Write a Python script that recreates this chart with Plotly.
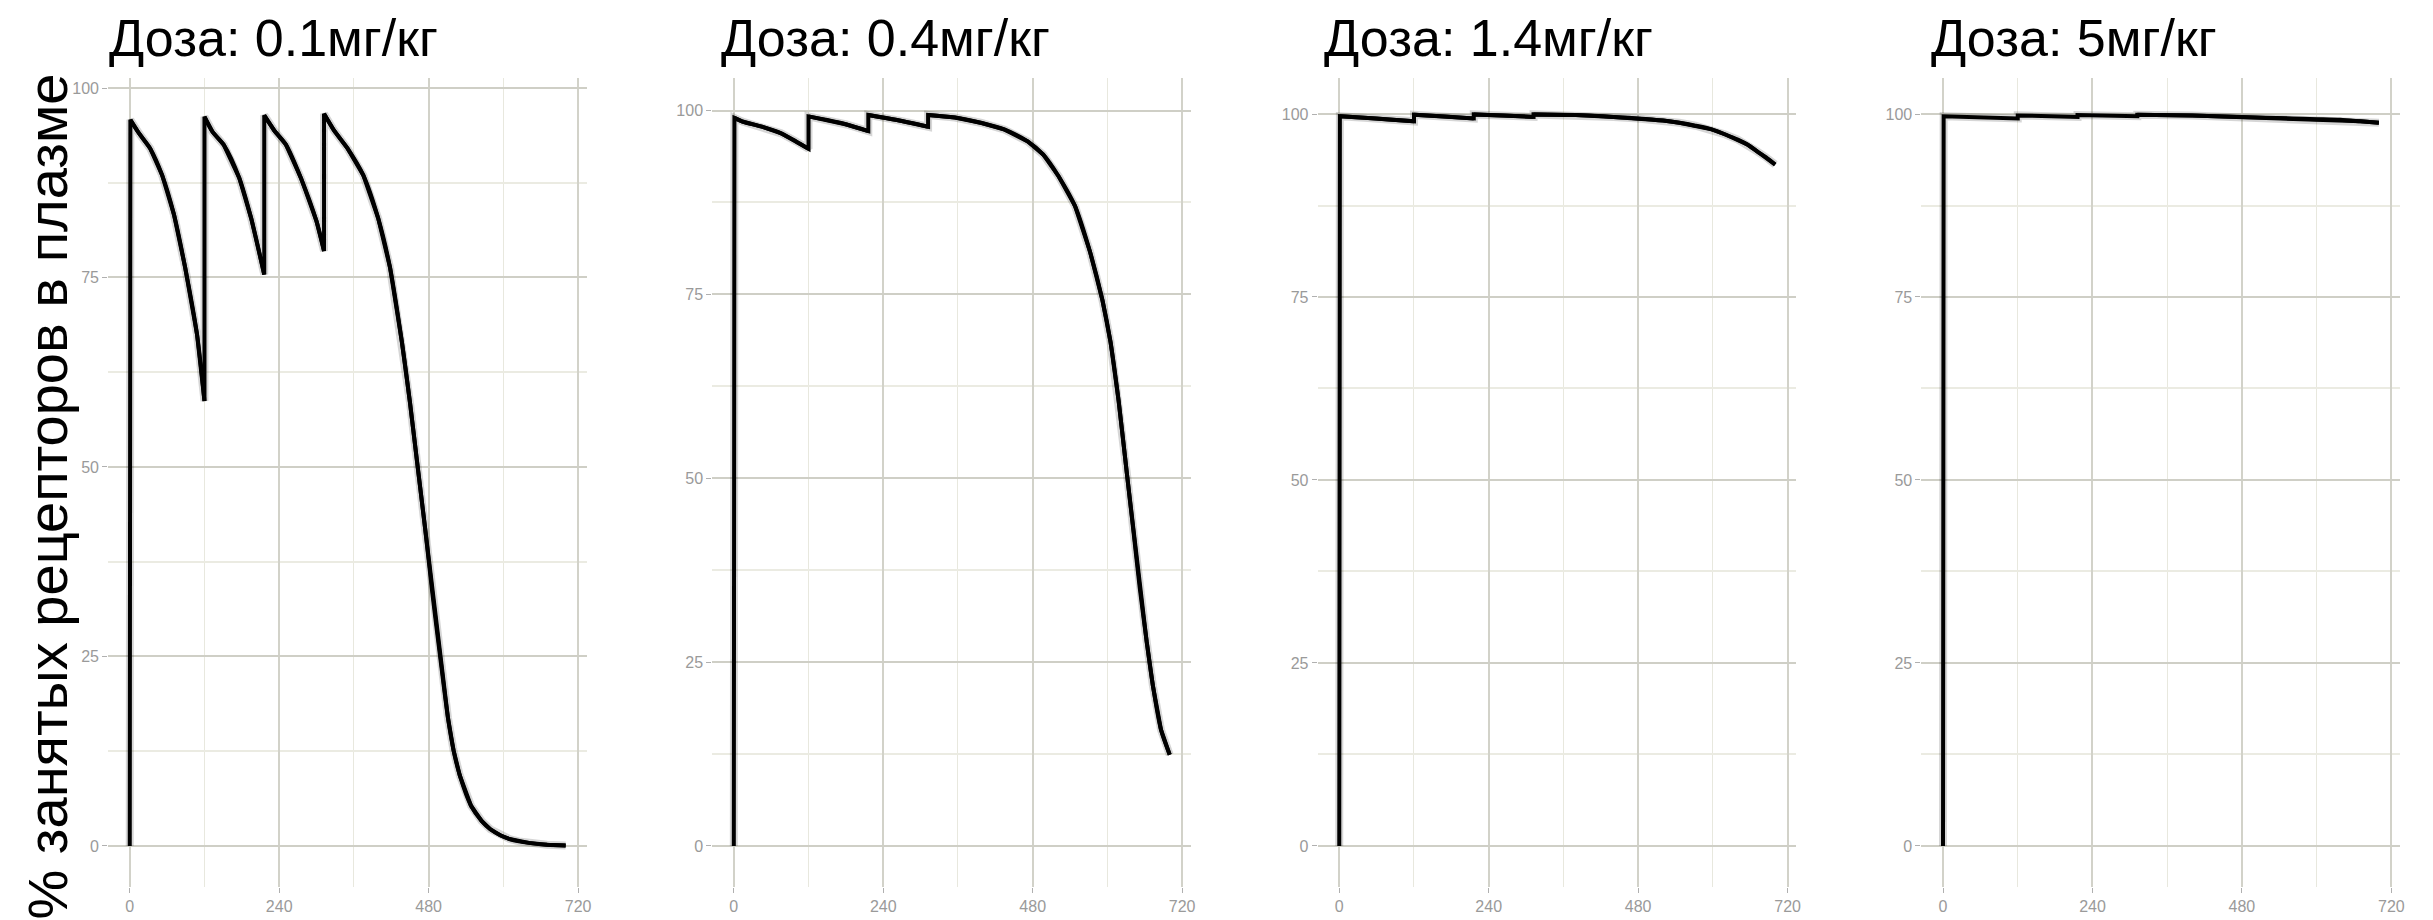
import glob
import os
import plotly.graph_objects as go

# ---------------- data ----------------
titles = ["Доза: 0.1мг/кг", "Доза: 0.4мг/кг", "Доза: 1.4мг/кг", "Доза: 5мг/кг"]
y_title = "% занятых рецепторов в плазме"

x_ticks = [0, 240, 480, 720]
x_minor = [120, 360, 600]
y_ticks = [0, 25, 50, 75, 100]
y_minor = [12.5, 37.5, 62.5, 87.5]

# time (h) and occupancy (%); a repeated time marks a dose (vertical jump)
t1 = [0, 1, 15, 33, 52, 71, 89, 108, 120,
      120, 133, 151, 176, 195, 216,
      216, 232, 251, 275, 300, 312,
      312, 328, 350, 375, 399, 418, 437, 450, 461, 474, 486, 499, 511, 520, 530,
      548, 565, 579, 595, 610, 625, 641, 670, 700]
occ1 = [0, 95.8, 94.0, 92.0, 88.5, 83.3, 76.3, 67.5, 58.7,
        96.2, 94.2, 92.5, 88.1, 82.8, 75.4,
        96.4, 94.4, 92.5, 88.1, 82.4, 78.5,
        96.6, 94.4, 92.0, 88.5, 82.8, 76.3, 66.5, 58.5, 50.9, 42.1, 33.3, 24.6, 16.9, 12.6, 9.3,
        5.3, 3.3, 2.2, 1.4, 0.9, 0.6, 0.4, 0.15, 0.05]

t2 = [0, 1, 14, 45, 76, 100, 120,
      120, 150, 181, 216,
      216, 262, 312,
      312, 355, 398, 435, 472, 497, 522, 548, 572, 592, 605, 618, 631, 642, 652, 663,
      673, 686, 700]
occ2 = [0, 99.0, 98.5, 97.8, 96.9, 95.8, 94.8,
        99.2, 98.7, 98.1, 97.2,
        99.4, 98.7, 97.8,
        99.4, 99.05, 98.3, 97.4, 95.8, 94.0, 91.0, 87.0, 80.8, 74.2, 68.5, 60.5, 50.8, 42.6, 35.0, 27.8,
        21.8, 15.8, 12.4]

t3 = [0, 1, 40, 80, 120,
      120, 170, 216,
      216, 265, 312,
      312, 380, 440, 480, 520, 546, 572, 598, 620, 640, 656, 671, 685, 700]
occ3 = [0, 99.7, 99.5, 99.25, 99.0,
        99.9, 99.65, 99.4,
        99.95, 99.8, 99.6,
        99.95, 99.85, 99.6, 99.4, 99.1, 98.8, 98.4, 97.9, 97.2, 96.5, 95.8, 94.9, 94.1, 93.1]

t4 = [0, 1, 120,
      120, 216,
      216, 312,
      312, 400, 480, 560, 600, 638, 670, 700]
occ4 = [0, 99.7, 99.4,
        99.8, 99.6,
        99.85, 99.7,
        99.9, 99.8, 99.6, 99.4, 99.3, 99.2, 99.0, 98.8]

series = [(t1, occ1), (t2, occ2), (t3, occ3), (t4, occ4)]

# ---------------- layout geometry (pixels) ----------------
W, H = 2433, 920
x_range = (-34.6, 734.0)
PX_PER_UNIT = 0.624
zero_px = [122.0, 727.3, 1334.0, 1939.0]
panel_top, panel_bottom = 70, 878.6
y_ranges = [(-5.37, 101.32), (-5.53, 104.42), (-5.56, 104.92), (-5.56, 104.92)]
title_left = [100, 713, 1318, 1926]

FONT = "Liberation Sans, Arial, sans-serif"


def has_font(pattern):
    dirs = ["/usr/share/fonts", "/usr/local/share/fonts",
            os.path.expanduser("~/.fonts"), os.path.expanduser("~/.local/share/fonts")]
    return any(glob.glob(os.path.join(d, "**", pattern), recursive=True) for d in dirs)


NARROW_OK = has_font("LiberationSansNarrow*")
if NARROW_OK:
    YT_FONT, YT_SIZE = "Liberation Sans Narrow", 67
    TICK_FONT, TICK_SIZE = "Liberation Sans Narrow", 18
else:
    YT_FONT, YT_SIZE = FONT, 56
    TICK_FONT, TICK_SIZE = FONT, 16
YT_BASELINE_X = 58

MAJOR_H = "#cfcfc6"
MINOR_H = "#ebebe2"
MAJOR_V = "#d2d2c9"
MINOR_V = "#e8e8de"
TICK_COL = "#9a9a9a"


def segments(tt, vv):
    """Split a curve at dose times (repeated t) into smooth pieces."""
    segs, cur_t, cur_v = [], [tt[0]], [vv[0]]
    for k in range(1, len(tt)):
        if tt[k] == tt[k - 1] or k == 1:
            if len(cur_t) > 1:
                segs.append((cur_t, cur_v))
            cur_t, cur_v = [tt[k]], [vv[k]]
        else:
            cur_t.append(tt[k])
            cur_v.append(vv[k])
    segs.append((cur_t, cur_v))
    return segs


fig = go.Figure()
layout = dict(
    width=W, height=H,
    margin=dict(l=0, r=0, t=0, b=0),
    paper_bgcolor="white", plot_bgcolor="white",
    showlegend=False,
    annotations=[],
)

for i, (tt, vv) in enumerate(series):
    n = "" if i == 0 else str(i + 1)
    xa, ya = "x" + n, "y" + n
    fig.add_trace(go.Scatter(x=tt, y=vv, mode="lines", xaxis=xa, yaxis=ya,
                             line=dict(color="rgba(0,0,0,0.16)", width=8),
                             hoverinfo="skip"))
    fig.add_trace(go.Scatter(x=tt, y=vv, mode="lines", xaxis=xa, yaxis=ya,
                             line=dict(color="black", width=4)))
    for st, sv in segments(tt, vv):
        if len(st) > 2:
            fig.add_trace(go.Scatter(x=st, y=sv, mode="lines", xaxis=xa, yaxis=ya,
                                     line=dict(color="black", width=4, shape="spline",
                                               smoothing=0.8),
                                     hoverinfo="skip"))
    x0 = zero_px[i] + x_range[0] * PX_PER_UNIT
    x1 = zero_px[i] + x_range[1] * PX_PER_UNIT
    layout["xaxis" + n] = dict(
        domain=[x0 / W, x1 / W], range=list(x_range), anchor=ya,
        tickvals=x_ticks, ticktext=[str(v) for v in x_ticks],
        showgrid=True, gridcolor=MAJOR_V, gridwidth=1.5,
        minor=dict(tickvals=x_minor, showgrid=True, gridcolor=MINOR_V, gridwidth=1.3),
        ticks="outside", ticklen=5, tickwidth=1.2, tickcolor="#b0b0b0",
        tickfont=dict(family=TICK_FONT, size=TICK_SIZE, color=TICK_COL),
        zeroline=False, showline=False, fixedrange=True,
    )
    layout["yaxis" + n] = dict(
        domain=[1 - panel_bottom / H, 1 - panel_top / H], range=list(y_ranges[i]), anchor=xa,
        tickvals=y_ticks, ticktext=[str(v) for v in y_ticks],
        showgrid=True, gridcolor=MAJOR_H, gridwidth=2.2,
        minor=dict(tickvals=y_minor, showgrid=True, gridcolor=MINOR_H, gridwidth=2),
        ticks="outside", ticklen=5, tickwidth=1.2, tickcolor="#b0b0b0",
        tickfont=dict(family=TICK_FONT, size=TICK_SIZE, color=TICK_COL),
        zeroline=False, showline=False, fixedrange=True,
    )
    layout["annotations"].append(dict(
        text=titles[i], xref="paper", yref="paper",
        x=title_left[i] / W, y=1.0, xanchor="left", yanchor="top", borderpad=0,
        showarrow=False, font=dict(family=FONT, size=52, color="black"),
    ))

yt_center_x = YT_BASELINE_X - 0.3465 * YT_SIZE
layout["annotations"].append(dict(
    text=y_title, xref="paper", yref="paper",
    x=yt_center_x / W, y=1 - 489 / H, xanchor="center", yanchor="middle", textangle=-90,
    borderpad=0, showarrow=False, font=dict(family=YT_FONT, size=YT_SIZE, color="black"),
))

fig.update_layout(**layout)
fig.write_html("out.html")
